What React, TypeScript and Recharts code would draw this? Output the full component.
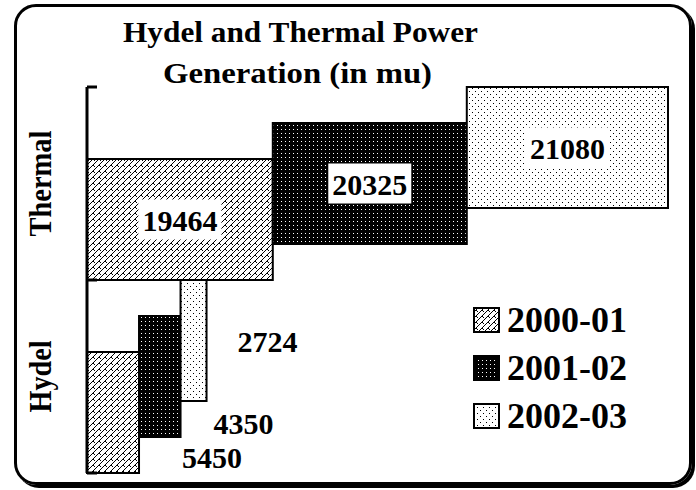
import { Bar, BarChart, LabelList, XAxis, YAxis } from 'recharts';

const CATEGORIES = ['Thermal', 'Hydel'];
const SERIES = ['2000-01', '2001-02', '2002-03'];
const THERMAL = [19464, 20325, 21080];
const HYDEL = [5450, 4350, 2724];

const TITLE = ['Hydel and Thermal Power', 'Generation (in mu)'];
const FONT = '"Liberation Serif", "Times New Roman", serif';

// 3D-ish depth: each later series sits one step higher
const DEPTH = 36;
// small bars put their label outside, nudged from the bar end
const LABEL_NUDGE = [
  [73, 44],
  [63, 46],
  [61, 0],
];

const data = CATEGORIES.map((cat, ci) => {
  const vals = ci === 0 ? THERMAL : HYDEL;
  const row: Record<string, string | number> = { cat };
  SERIES.forEach((s, si) => {
    row[s] = vals[si];
  });
  return row;
});

const shiftOf = (si: number) => DEPTH * (1 - si);

function makeShape(si: number) {
  return (props: any) => {
    const { x, y, width, height } = props;
    return (
      <rect
        x={x}
        y={y + shiftOf(si)}
        width={width}
        height={height}
        fill={`url(#pat${si})`}
        stroke="#000"
        strokeWidth={2}
      />
    );
  };
}

function makeLabel(si: number) {
  return (props: any) => {
    const { x, y, width, height, value } = props;
    const cy = y + shiftOf(si) + height / 2;
    const text = String(value);
    if (width > 100) {
      const cx = x + width / 2;
      const w = text.length * 15 + 8;
      return (
        <g>
          <rect x={cx - w / 2} y={cy - 20} width={w} height={40} fill="#fff" />
          <text
            x={cx}
            y={cy + 11}
            textAnchor="middle"
            fontFamily={FONT}
            fontWeight="bold"
            fontSize={30}
            fill="#000"
          >
            {text}
          </text>
        </g>
      );
    }
    const [dx, dy] = LABEL_NUDGE[si];
    return (
      <text
        x={x + width + dx}
        y={cy + dy + 11}
        textAnchor="middle"
        fontFamily={FONT}
        fontWeight="bold"
        fontSize={30}
        fill="#000"
      >
        {text}
      </text>
    );
  };
}

// category label rotated, with tick marks at the band edges (inside)
function CatTick(props: any) {
  const { x, y, payload, index } = props;
  const half = payload && payload.offset ? payload.offset : 96.5;
  const label = String(payload.value);
  const tx = x - 36;
  return (
    <g>
      <line x1={x} x2={x + 10} y1={y - half} y2={y - half} stroke="#000" strokeWidth={3} />
      {index === CATEGORIES.length - 1 && (
        <line x1={x} x2={x + 10} y1={y + half} y2={y + half} stroke="#000" strokeWidth={3} />
      )}
      <text
        x={tx}
        y={y}
        transform={`rotate(-90, ${tx}, ${y})`}
        textAnchor="middle"
        fontFamily={FONT}
        fontWeight="bold"
        fontSize={31}
        textLength={label.length > 5 ? 106 : 72}
        lengthAdjust="spacingAndGlyphs"
        fill="#000"
      >
        {label}
      </text>
    </g>
  );
}

function LegendBox() {
  return (
    <div style={{ position: 'absolute', left: 473, top: 296 }}>
      {SERIES.map((s, i) => (
        <div key={s} style={{ display: 'flex', alignItems: 'center', height: 48 }}>
          <svg width={27} height={26} style={{ display: 'block' }}>
            <rect x={1} y={1} width={25} height={24} fill={`url(#pat${i})`} stroke="#000" strokeWidth={2} />
          </svg>
          <span
            style={{
              marginLeft: 7,
              fontFamily: FONT,
              fontWeight: 'bold',
              fontSize: 36,
              lineHeight: '36px',
              color: '#000',
            }}
          >
            {s}
          </span>
        </div>
      ))}
    </div>
  );
}

export default function App() {
  return (
    <div style={{ position: 'relative', width: 696, height: 490, background: '#fff' }}>
      <style>{`body { margin: 0; }`}</style>
      <div
        style={{
          position: 'absolute',
          left: 14,
          top: 4,
          width: 678,
          height: 481,
          boxSizing: 'border-box',
          border: '3px solid #000',
          borderRadius: 22,
          boxShadow: '3px 3px 0 #000',
        }}
      />
      <div style={{ position: 'absolute', left: 0, top: 0 }}>
        <BarChart
          width={696}
          height={490}
          data={data}
          layout="vertical"
          margin={{ top: 87, right: 28, bottom: 17, left: 0 }}
        >
          <defs>
            <pattern id="pat0" width={6} height={6} patternUnits="userSpaceOnUse">
              <rect width={6} height={6} fill="#fff" />
              <path
                d="M0 6 L6 0 M-1 1 L1 -1 M5 7 L7 5 M3 3 L5 5"
                stroke="#000"
                strokeWidth={1}
                fill="none"
              />
            </pattern>
            <pattern id="pat1" width={4} height={4} patternUnits="userSpaceOnUse">
              <rect width={4} height={4} fill="#000" />
              <rect x={1} y={1} width={1} height={1} fill="#fff" />
            </pattern>
            <pattern id="pat2" width={6} height={6} patternUnits="userSpaceOnUse">
              <rect width={6} height={6} fill="#fff" />
              <rect x={1} y={1} width={1} height={1} fill="#000" />
              <rect x={4} y={4} width={1} height={1} fill="#000" />
            </pattern>
          </defs>
          <XAxis type="number" domain={[0, 'dataMax']} hide />
          <YAxis
            type="category"
            dataKey="cat"
            width={87}
            axisLine={{ stroke: '#000', strokeWidth: 3 }}
            tickLine={false}
            tickSize={0}
            tickMargin={0}
            tick={<CatTick />}
            interval={0}
          />
          {SERIES.map((s, si) => (
            <Bar
              key={s}
              dataKey={s}
              name={s}
              stackId="a"
              barSize={121}
              fill="#fff"
              shape={makeShape(si)}
              isAnimationActive={false}
            >
              <LabelList dataKey={s} content={makeLabel(si)} />
            </Bar>
          ))}
        </BarChart>
      </div>
      <LegendBox />
      <svg
        width={696}
        height={490}
        style={{ position: 'absolute', left: 0, top: 0, pointerEvents: 'none' }}
      >
        <text
          x={300.5}
          y={42}
          textAnchor="middle"
          fontFamily={FONT}
          fontWeight="bold"
          fontSize={30}
          textLength={355}
          lengthAdjust="spacingAndGlyphs"
        >
          {TITLE[0]}
        </text>
        <text
          x={297.5}
          y={83}
          textAnchor="middle"
          fontFamily={FONT}
          fontWeight="bold"
          fontSize={30}
          textLength={269}
          lengthAdjust="spacingAndGlyphs"
        >
          {TITLE[1]}
        </text>
      </svg>
    </div>
  );
}
